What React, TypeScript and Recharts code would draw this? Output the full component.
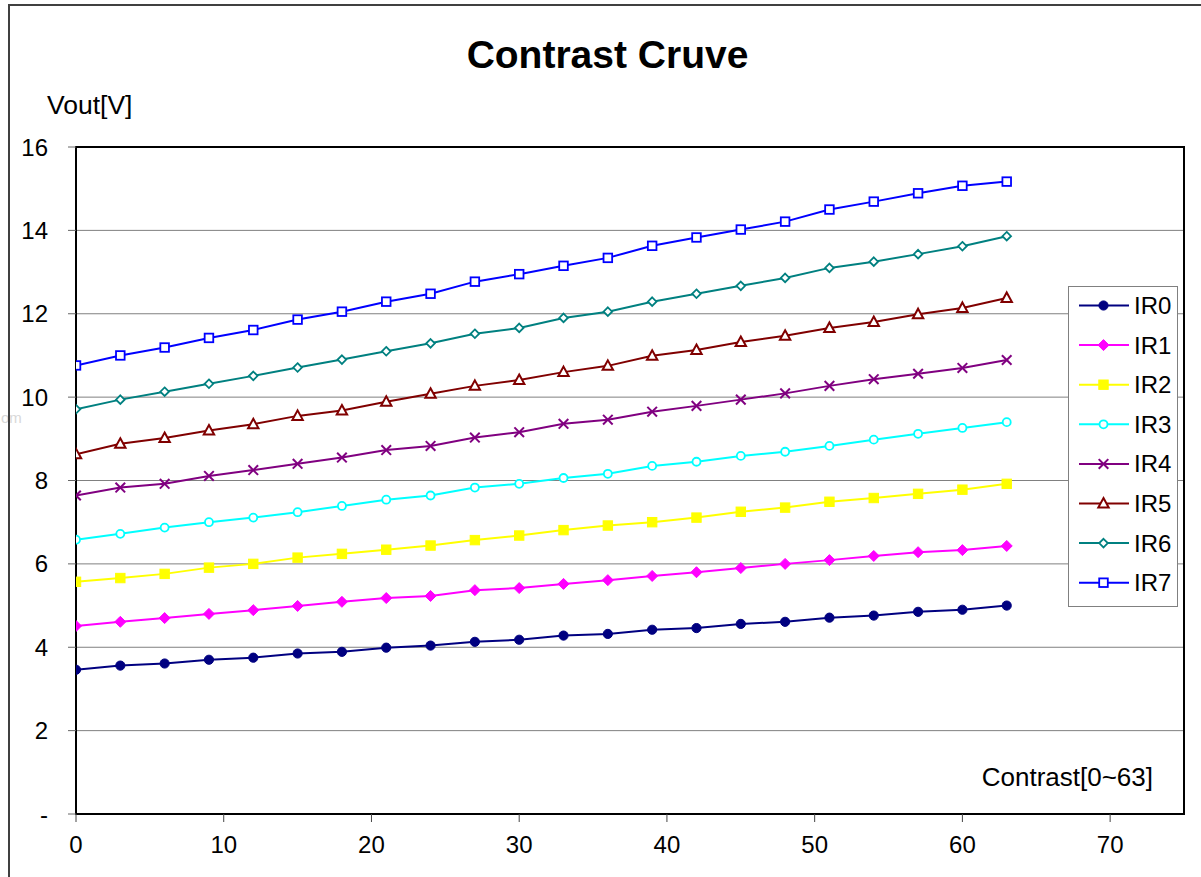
import React from 'react';
import { LineChart, Line, XAxis, YAxis, CartesianGrid, ReferenceArea } from 'recharts';

const contrast = [0, 3, 6, 9, 12, 15, 18, 21, 24, 27, 30, 33, 36, 39, 42, 45, 48, 51, 54, 57, 60, 63];
const ir0 = [3.46, 3.56, 3.61, 3.70, 3.75, 3.85, 3.89, 3.99, 4.04, 4.13, 4.18, 4.28, 4.32, 4.42, 4.46, 4.56, 4.61, 4.71, 4.76, 4.85, 4.90, 5.00];
const ir1 = [4.51, 4.61, 4.70, 4.80, 4.89, 4.99, 5.09, 5.18, 5.23, 5.37, 5.42, 5.52, 5.61, 5.71, 5.80, 5.90, 6.00, 6.09, 6.19, 6.28, 6.33, 6.43];
const ir2 = [5.57, 5.66, 5.76, 5.91, 6.00, 6.15, 6.24, 6.34, 6.44, 6.57, 6.68, 6.81, 6.92, 7.00, 7.11, 7.25, 7.35, 7.49, 7.58, 7.68, 7.78, 7.92];
const ir3 = [6.58, 6.72, 6.87, 7.00, 7.11, 7.24, 7.39, 7.54, 7.64, 7.83, 7.92, 8.06, 8.16, 8.35, 8.45, 8.59, 8.69, 8.83, 8.98, 9.12, 9.26, 9.40];
const ir4 = [7.64, 7.83, 7.92, 8.11, 8.25, 8.40, 8.55, 8.73, 8.83, 9.03, 9.16, 9.36, 9.46, 9.65, 9.79, 9.94, 10.09, 10.27, 10.43, 10.56, 10.70, 10.89];
const ir5 = [8.63, 8.88, 9.02, 9.20, 9.35, 9.55, 9.68, 9.89, 10.08, 10.27, 10.41, 10.60, 10.75, 10.99, 11.13, 11.32, 11.47, 11.66, 11.80, 11.99, 12.14, 12.38];
const ir6 = [9.71, 9.94, 10.13, 10.32, 10.51, 10.71, 10.90, 11.10, 11.29, 11.52, 11.66, 11.90, 12.05, 12.29, 12.48, 12.67, 12.86, 13.10, 13.25, 13.43, 13.62, 13.86];
const ir7 = [10.76, 11.00, 11.19, 11.42, 11.61, 11.86, 12.05, 12.29, 12.48, 12.77, 12.95, 13.15, 13.34, 13.63, 13.83, 14.02, 14.21, 14.50, 14.69, 14.89, 15.07, 15.17];

const xTicks = [0, 10, 20, 30, 40, 50, 60, 70];
const yTicks = [0, 2, 4, 6, 8, 10, 12, 14, 16];

const seriesNames = ['IR0', 'IR1', 'IR2', 'IR3', 'IR4', 'IR5', 'IR6', 'IR7'];
const seriesValues = [ir0, ir1, ir2, ir3, ir4, ir5, ir6, ir7];
const seriesColors = ['#000080', '#FF00FF', '#FFFF00', '#00FFFF', '#800080', '#800000', '#008080', '#0000FF'];
const seriesMarkers = ['circleFill', 'diamondFill', 'squareFill', 'circle', 'cross', 'triangle', 'diamond', 'square'];

const data = contrast.map((c, i) => {
  const row: Record<string, number> = { x: c };
  seriesNames.forEach((n, s) => {
    row[n] = seriesValues[s][i];
  });
  return row;
});

function Marker({ kind, cx, cy, color }: { kind: string; cx: number; cy: number; color: string }) {
  switch (kind) {
    case 'circleFill':
      return <circle cx={cx} cy={cy} r={4.6} fill={color} stroke={color} strokeWidth={1} />;
    case 'diamondFill':
      return <polygon points={`${cx},${cy - 5.5} ${cx + 5.5},${cy} ${cx},${cy + 5.5} ${cx - 5.5},${cy}`} fill={color} stroke={color} strokeWidth={1} />;
    case 'squareFill':
      return <rect x={cx - 4.7} y={cy - 4.7} width={9.4} height={9.4} fill={color} stroke={color} strokeWidth={1} />;
    case 'circle':
      return <circle cx={cx} cy={cy} r={4} fill="#fff" stroke={color} strokeWidth={1.8} />;
    case 'cross':
      return (
        <g stroke={color} strokeWidth={2}>
          <line x1={cx - 4.8} y1={cy - 4.8} x2={cx + 4.8} y2={cy + 4.8} />
          <line x1={cx - 4.8} y1={cy + 4.8} x2={cx + 4.8} y2={cy - 4.8} />
        </g>
      );
    case 'triangle':
      return <polygon points={`${cx},${cy - 5.5} ${cx + 5.2},${cy + 4} ${cx - 5.2},${cy + 4}`} fill="#fff" stroke={color} strokeWidth={2} />;
    case 'diamond':
      return <polygon points={`${cx},${cy - 4.3} ${cx + 4.3},${cy} ${cx},${cy + 4.3} ${cx - 4.3},${cy}`} fill="#fff" stroke={color} strokeWidth={1.8} />;
    case 'square':
    default:
      return <rect x={cx - 4.3} y={cy - 4.3} width={8.6} height={8.6} fill="#fff" stroke={color} strokeWidth={1.8} />;
  }
}

const FONT = '"Liberation Sans", Arial, sans-serif';

function LegendBox() {
  return (
    <div style={{ position: 'absolute', left: 1068, top: 286, width: 110, height: 321, border: '1px solid #808080', background: '#fff', boxSizing: 'border-box' }}>
      <svg width={108} height={319} style={{ display: 'block' }}>
        {seriesNames.map((n, i) => {
          const cy = 18.5 + i * 39.6;
          return (
            <g key={n}>
              <line x1={10} x2={60} y1={cy} y2={cy} stroke={seriesColors[i]} strokeWidth={2} />
              <Marker kind={seriesMarkers[i]} cx={34.5} cy={cy} color={seriesColors[i]} />
              <text x={65} y={cy + 8.5} fontSize={24} fontFamily={FONT} fill="#000">{n}</text>
            </g>
          );
        })}
      </svg>
    </div>
  );
}

export default function App() {
  return (
    <div style={{ position: 'absolute', left: 0, top: 0, width: 1201, height: 877, background: '#fff', fontFamily: FONT, overflow: 'hidden' }}>
      <LineChart width={1201} height={877} data={data} margin={{ top: 147, right: 17, bottom: 0, left: 0 }}>
        <CartesianGrid horizontal vertical={false} stroke="#808080" strokeWidth={1} />
        <XAxis
          dataKey="x"
          type="number"
          domain={[0, 75]}
          ticks={xTicks}
          height={63}
          axisLine={{ stroke: '#000', strokeWidth: 2 }}
          tickLine={{ stroke: '#444', strokeWidth: 1 }}
          tickSize={8}
          tickMargin={14}
          tick={{ fontSize: 24, fill: '#000', fontFamily: FONT }}
          allowDataOverflow
        />
        <YAxis
          type="number"
          domain={[0, 16]}
          ticks={yTicks}
          width={76}
          axisLine={{ stroke: '#000', strokeWidth: 2 }}
          tickLine={{ stroke: '#666', strokeWidth: 1 }}
          tickSize={8}
          tickMargin={20}
          tick={{ fontSize: 24, fill: '#000', fontFamily: FONT }}
          tickFormatter={(v: number) => (v === 0 ? '-' : String(v))}
          interval={0}
        />
        <ReferenceArea x1={0} x2={75} y1={0} y2={16} fill="none" stroke="#000" strokeWidth={2} ifOverflow="visible" />
        {seriesNames.map((n, i) => (
          <Line
            key={n}
            dataKey={n}
            name={n}
            type="linear"
            stroke={seriesColors[i]}
            strokeWidth={2}
            isAnimationActive={false}
            dot={(p: any) => (
              <g key={`${n}-${p.index}`}>
                <Marker kind={seriesMarkers[i]} cx={p.cx} cy={p.cy} color={seriesColors[i]} />
              </g>
            )}
            activeDot={false}
          />
        ))}
      </LineChart>
      <LegendBox />
      <div style={{ position: 'absolute', left: 0, width: 1201, top: 33, textAlign: 'center', fontSize: 39, fontWeight: 'bold', fontFamily: FONT, color: '#000', paddingLeft: 14, boxSizing: 'border-box' }}>
        Contrast Cruve
      </div>
      <div style={{ position: 'absolute', left: 47, top: 90, fontSize: 26.5, fontFamily: FONT, color: '#000' }}>Vout[V]</div>
      <div style={{ position: 'absolute', right: 1201 - 1153, top: 762, fontSize: 26, fontFamily: FONT, color: '#000' }}>Contrast[0~63]</div>
      <div style={{ position: 'absolute', left: 1, top: 409, fontSize: 15, fontFamily: FONT, color: '#d8d8d8' }}>om</div>
      <div style={{ position: 'absolute', left: 8, top: 4, width: 1200, height: 900, border: '2px solid #404040', boxSizing: 'border-box', pointerEvents: 'none' }} />
    </div>
  );
}
